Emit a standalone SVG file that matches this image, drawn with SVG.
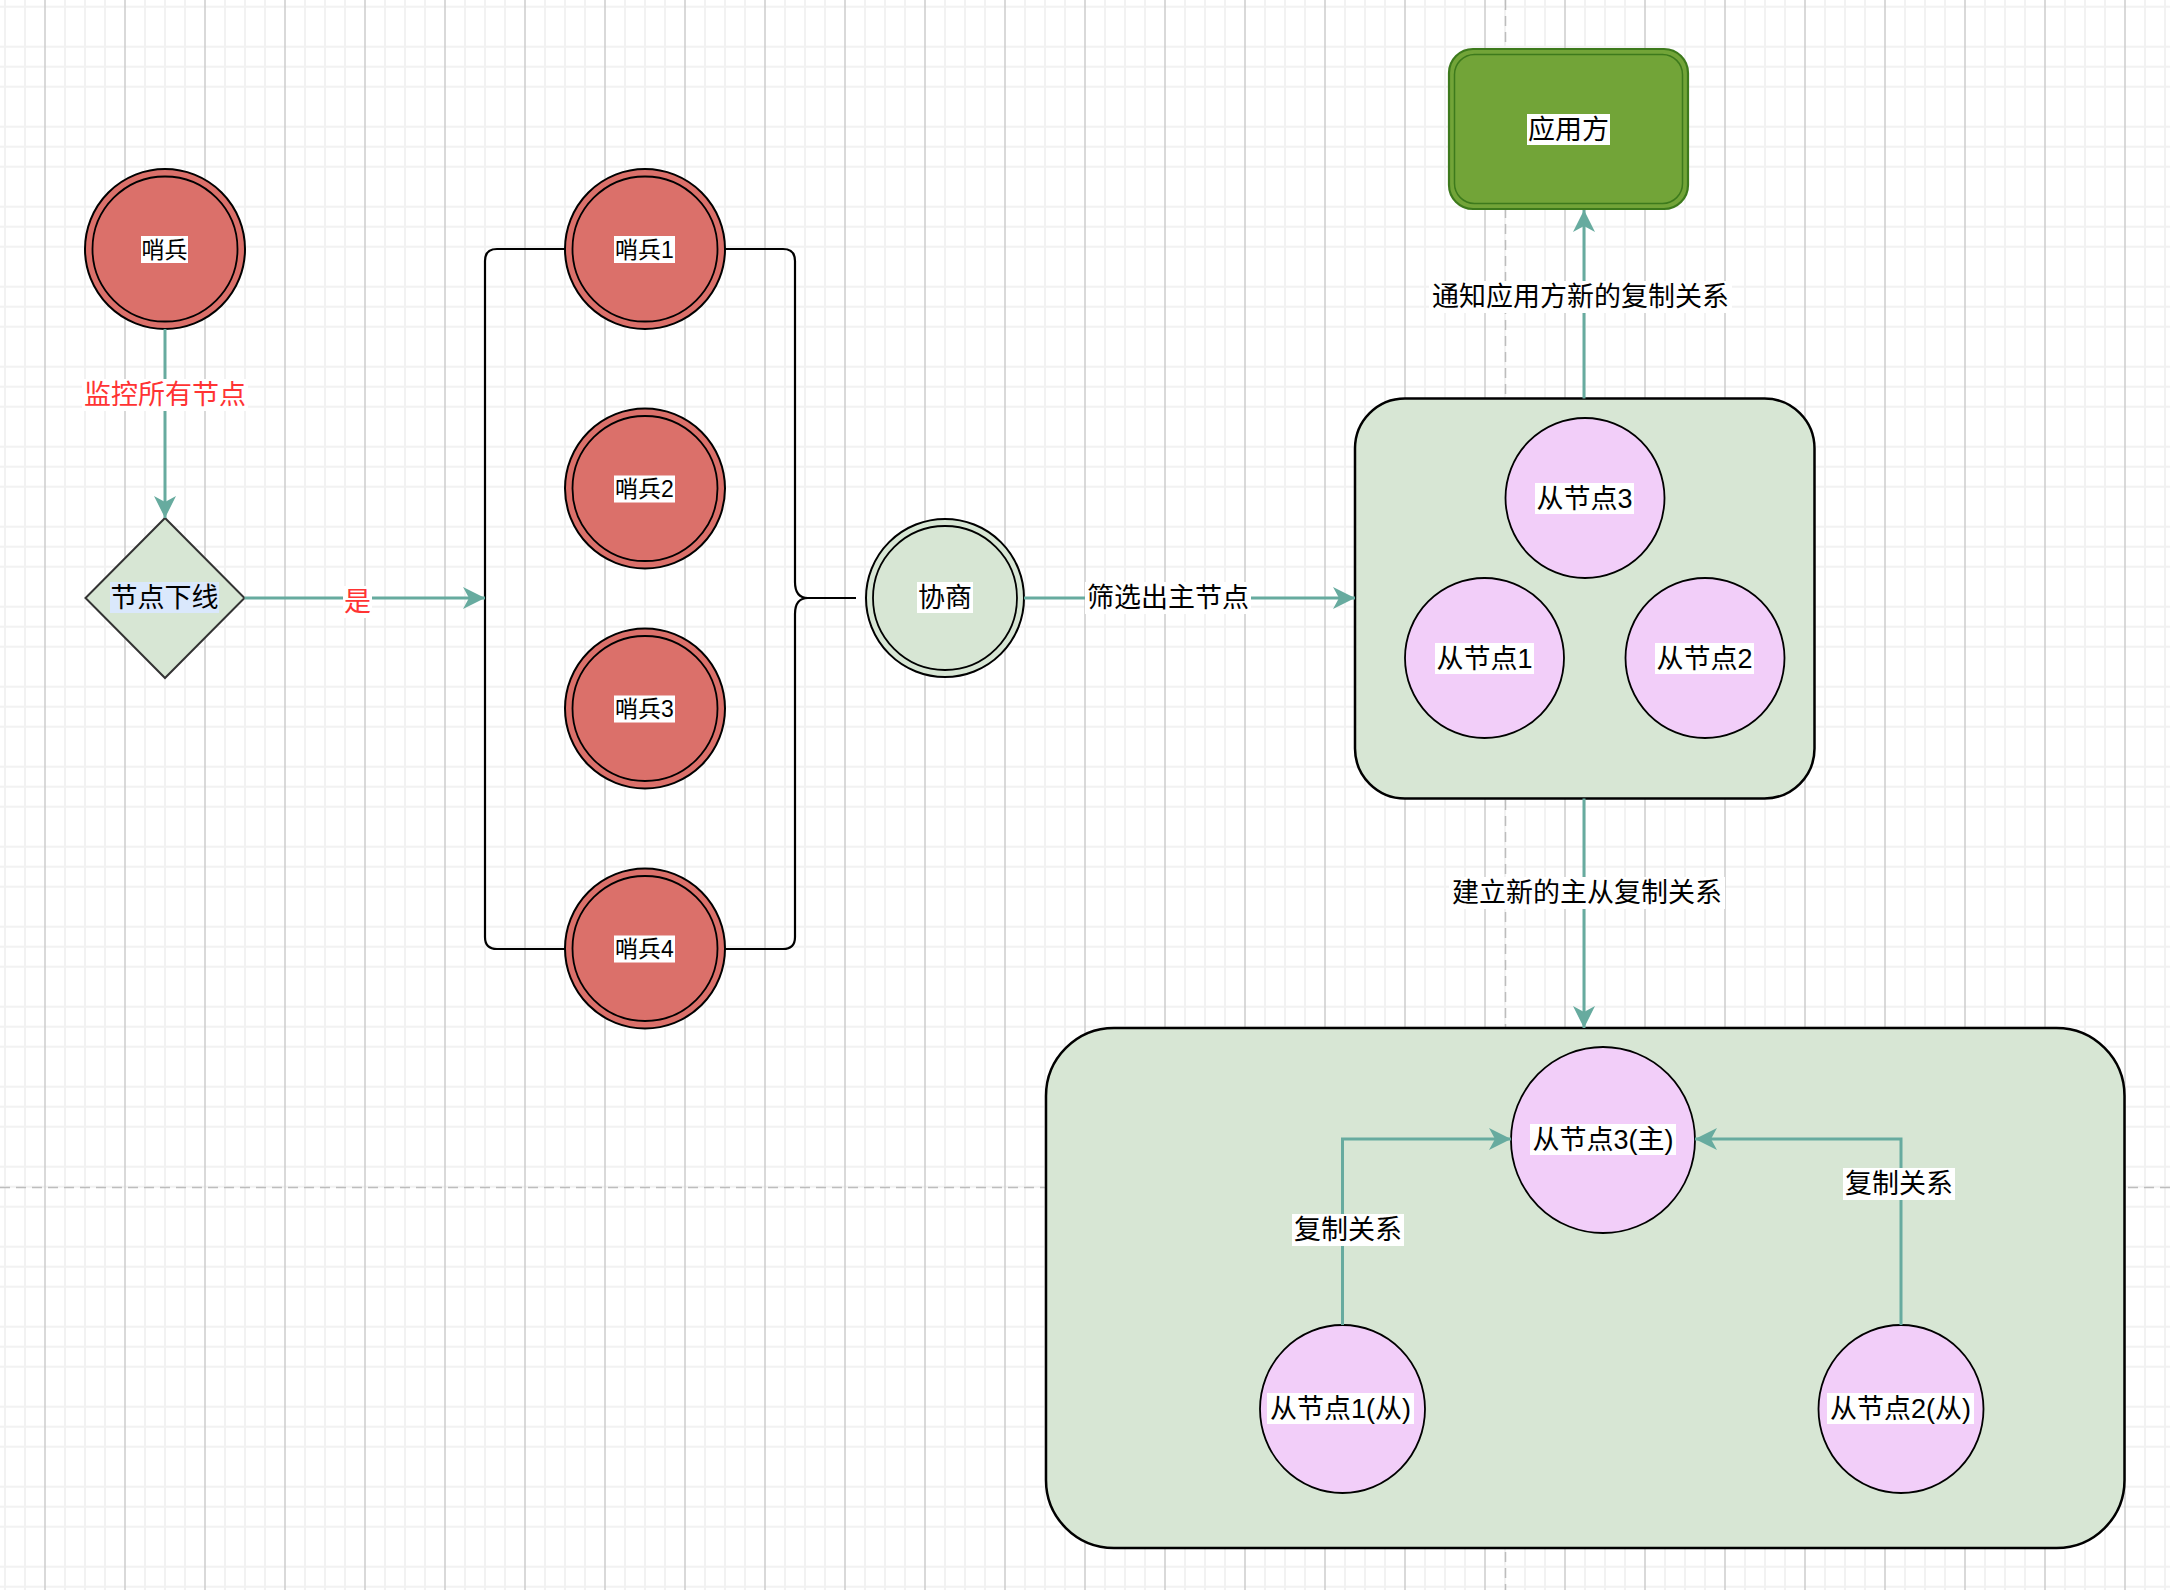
<svg xmlns="http://www.w3.org/2000/svg" width="2170" height="1590" viewBox="0 0 2170 1590">
<style>
text{font-family:"Liberation Sans","Noto Sans CJK SC",sans-serif;text-anchor:middle;dominant-baseline:central;fill:#000}
.t23{font-size:23px}
.t27{font-size:27px}
.red{fill:#ff3333}
.lbg{fill:#ffffff}
.sentinel{fill:#db706a;stroke:#000;stroke-width:2}
.inner{fill:none;stroke:#000;stroke-width:1.8}
.green{fill:#d7e6d4;stroke:#000;stroke-width:2.5}
.slave{fill:#f2cef9;stroke:#000;stroke-width:1.8}
.edge{fill:none;stroke:#67ab9f;stroke-width:3}
.brk{fill:none;stroke:#000;stroke-width:2.2}
.pb{stroke:#bdbdbd;stroke-width:1.5;stroke-dasharray:10 6}
</style>
<defs>
<pattern id="grid" width="80" height="80" patternUnits="userSpaceOnUse">
<rect width="80" height="80" fill="#ffffff"/>
<path d="M0 6.7H80M0 46.7H80M0 66.7H80" stroke="#f2f2f2" stroke-width="2"/>
<path d="M5 0V80M25 0V80M65 0V80" stroke="#f2f2f2" stroke-width="2"/>
<path d="M45 0V80" stroke="#cdcdcd" stroke-width="1.5"/>
</pattern>
<marker id="arr" viewBox="0 0 24 24" markerWidth="24" markerHeight="24" refX="22" refY="12" orient="auto" markerUnits="userSpaceOnUse">
<path d="M0 1L22 12L0 23L6 12Z" fill="#67ab9f"/>
</marker>
</defs>
<rect width="2170" height="1590" fill="url(#grid)"/>
<g id="page-breaks">
<line class="pb" x1="1505.5" y1="0" x2="1505.5" y2="1590"/>
<line class="pb" x1="0" y1="1187.5" x2="2170" y2="1187.5"/>
</g>
<g id="bracket">
<path class="brk" d="M497 249H783Q795 249 795 261V582Q795 598 808 598Q795 598 795 614V937Q795 949 783 949H497Q485 949 485 937V261Q485 249 497 249Z"/>
<path class="brk" d="M808 598H856"/>
</g>
<g id="sentinel">
<circle class="sentinel" cx="165" cy="249" r="80"/><circle class="inner" cx="165" cy="249" r="72.5"/>
<rect class="lbg" x="141" y="236" width="47" height="27"/><text class="t23" x="164.5" y="249.5">哨兵</text>
</g>
<g id="sentinel1">
<circle class="sentinel" cx="645" cy="249" r="80"/><circle class="inner" cx="645" cy="249" r="72.5"/>
<rect class="lbg" x="614" y="236" width="61" height="27"/><text class="t23" x="644.5" y="249.5">哨兵1</text>
</g>
<g id="sentinel2">
<circle class="sentinel" cx="645" cy="488.5" r="80"/><circle class="inner" cx="645" cy="488.5" r="72.5"/>
<rect class="lbg" x="614" y="475.5" width="61" height="27"/><text class="t23" x="644.5" y="489">哨兵2</text>
</g>
<g id="sentinel3">
<circle class="sentinel" cx="645" cy="708.5" r="80"/><circle class="inner" cx="645" cy="708.5" r="72.5"/>
<rect class="lbg" x="614" y="695.5" width="61" height="27"/><text class="t23" x="644.5" y="709">哨兵3</text>
</g>
<g id="sentinel4">
<circle class="sentinel" cx="645" cy="948.5" r="80"/><circle class="inner" cx="645" cy="948.5" r="72.5"/>
<rect class="lbg" x="614" y="935.5" width="61" height="27"/><text class="t23" x="644.5" y="949">哨兵4</text>
</g>
<g id="node-offline">
<path d="M165 518L244.5 598L165 678L85.5 598Z" fill="#d7e6d4" stroke="#333" stroke-width="2"/>
<rect x="110" y="582" width="109" height="31" fill="#dae8fc"/><text class="t27" x="164.5" y="598">节点下线</text>
</g>
<g id="negotiate">
<circle cx="945" cy="598" r="79" fill="#d7e6d4" stroke="#000" stroke-width="2"/><circle class="inner" cx="945" cy="598" r="72"/>
<rect class="lbg" x="917" y="582" width="56" height="31"/><text class="t27" x="945" y="598">协商</text>
</g>
<g id="app">
<rect x="1449" y="49" width="239" height="160" rx="24" fill="#72a438" stroke="#3d7a1c" stroke-width="2.2"/>
<rect x="1454.5" y="54.5" width="228" height="149" rx="20" fill="none" stroke="#3d7a1c" stroke-width="1.5"/>
<rect class="lbg" x="1527" y="114" width="83" height="31"/><text class="t27" x="1568.5" y="129.5">应用方</text>
</g>
<g id="cluster-old">
<rect class="green" x="1355" y="398.5" width="459.5" height="400" rx="50"/>
</g>
<g id="slave3">
<ellipse class="slave" cx="1585" cy="498" rx="79.5" ry="80"/>
<rect class="lbg" x="1535" y="483" width="99" height="31"/><text class="t27" x="1584.5" y="499">从节点3</text>
</g>
<g id="slave1">
<ellipse class="slave" cx="1484.5" cy="658" rx="79.5" ry="80"/>
<rect class="lbg" x="1435" y="643" width="99" height="31"/><text class="t27" x="1484.5" y="659">从节点1</text>
</g>
<g id="slave2">
<ellipse class="slave" cx="1705" cy="658" rx="79.5" ry="80"/>
<rect class="lbg" x="1655" y="643" width="99" height="31"/><text class="t27" x="1704.5" y="659">从节点2</text>
</g>
<g id="cluster-new">
<rect class="green" x="1046" y="1028" width="1078.5" height="520" rx="68"/>
</g>
<g id="master">
<ellipse class="slave" cx="1603" cy="1140" rx="92" ry="93"/>
<rect class="lbg" x="1530" y="1124" width="146" height="31"/><text class="t27" x="1603" y="1140">从节点3(主)</text>
</g>
<g id="slave1-new">
<ellipse class="slave" cx="1342.5" cy="1409" rx="82.5" ry="84"/>
<rect class="lbg" x="1267" y="1393" width="147" height="31"/><text class="t27" x="1340.5" y="1409">从节点1(从)</text>
</g>
<g id="slave2-new">
<ellipse class="slave" cx="1901" cy="1409" rx="82.5" ry="84"/>
<rect class="lbg" x="1827" y="1393" width="147" height="31"/><text class="t27" x="1900.5" y="1409">从节点2(从)</text>
</g>
<g id="connectors">
<path class="edge" d="M165 329V518" marker-end="url(#arr)"/>
<path class="edge" d="M244.5 598H485" marker-end="url(#arr)"/>
<path class="edge" d="M1024 598H1355" marker-end="url(#arr)"/>
<path class="edge" d="M1584 398.5V210" marker-end="url(#arr)"/>
<path class="edge" d="M1584 798.5V1028" marker-end="url(#arr)"/>
<path class="edge" d="M1342.5 1325V1139H1511" marker-end="url(#arr)"/>
<path class="edge" d="M1901 1325V1139H1695" marker-end="url(#arr)"/>
<rect class="lbg" x="82" y="379" width="166" height="32"/><text class="t27 red" x="165" y="395">监控所有节点</text>
<rect class="lbg" x="343" y="586" width="29" height="32"/><text class="t27 red" x="357.5" y="602">是</text>
<rect class="lbg" x="1085" y="582" width="166" height="32"/><text class="t27" x="1168" y="598">筛选出主节点</text>
<rect class="lbg" x="1429" y="281" width="303" height="32"/><text class="t27" x="1580.5" y="297">通知应用方新的复制关系</text>
<rect class="lbg" x="1449" y="877" width="276" height="32"/><text class="t27" x="1587" y="893">建立新的主从复制关系</text>
<rect class="lbg" x="1292" y="1214" width="112" height="32"/><text class="t27" x="1348" y="1230">复制关系</text>
<rect class="lbg" x="1843" y="1168" width="112" height="32"/><text class="t27" x="1899" y="1184">复制关系</text>
</g>
</svg>
